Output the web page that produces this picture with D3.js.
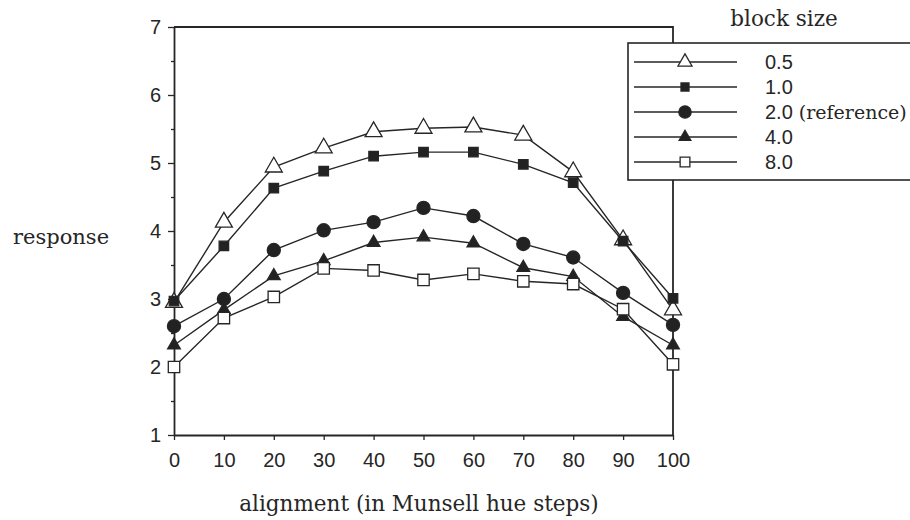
<!DOCTYPE html>
<html>
<head>
<meta charset="utf-8">
<script src="https://cdn.jsdelivr.net/npm/d3@7"></script>
<style>
  html, body { margin: 0; padding: 0; background: #fff; }
  svg { display: block; }
</style>
</head>
<body>
<svg id="chart" width="910" height="520"></svg>
<script>
// Alignment steps along the x axis (Munsell hue steps)
const alignment = [0, 10, 20, 30, 40, 50, 60, 70, 80, 90, 100];

// Block sizes, one series each
const blockSizes = ["0.5", "1.0", "2.0", "4.0", "8.0"];
const blockNotes = ["", "", " (reference)", "", ""];

// Mean response for each block size
const resp05 = [2.95, 4.13, 4.94, 5.22, 5.46, 5.51, 5.53, 5.41, 4.87, 3.87, 2.84];
const resp10 = [2.97, 3.78, 4.63, 4.88, 5.10, 5.16, 5.16, 4.98, 4.71, 3.85, 3.01];
const resp20 = [2.60, 3.00, 3.72, 4.01, 4.13, 4.34, 4.22, 3.81, 3.61, 3.09, 2.62];
const resp40 = [2.32, 2.84, 3.34, 3.56, 3.83, 3.91, 3.82, 3.46, 3.33, 2.74, 2.32];
const resp80 = [2.00, 2.72, 3.03, 3.45, 3.42, 3.28, 3.37, 3.26, 3.22, 2.85, 2.04];

// Axis ticks
const xTicks = [0, 10, 20, 30, 40, 50, 60, 70, 80, 90, 100];
const yTicks = [1, 2, 3, 4, 5, 6, 7];
const yMinorTicks = [1.5, 2.5, 3.5, 4.5, 5.5, 6.5];

const seriesValues = [resp05, resp10, resp20, resp40, resp80];

// Marker style per series: shape, filled or hollow, area
const markers = [
  { shape: d3.symbolTriangle, fill: "#fff", size: 125, legendSize: 85 },
  { shape: d3.symbolSquare,   fill: "#222", size: 90,  legendSize: 64 },
  { shape: d3.symbolCircle,   fill: "#222", size: 135, legendSize: 120 },
  { shape: d3.symbolTriangle, fill: "#222", size: 70,  legendSize: 60 },
  { shape: d3.symbolSquare,   fill: "#fff", size: 130, legendSize: 95 }
];

const ink = "#262626";
const sansFont = "'Liberation Sans', Arial, sans-serif";
const serifFont = "'DejaVu Serif', serif";

const svg = d3.select("#chart");

const x = d3.scaleLinear().domain([0, 100]).range([174, 673]);
const y = d3.scaleLinear().domain([1, 7]).range([435, 27]);

// Plot frame (top and right sides)
svg.append("path")
  .attr("d", `M${x(0)},${y(7)}H${x(100)}V${y(1)}`)
  .attr("fill", "none")
  .attr("stroke", ink)
  .attr("stroke-width", 1.8);

// Minor y ticks
svg.append("g")
  .attr("transform", `translate(${x(0)},0)`)
  .call(d3.axisLeft(y).tickValues(yMinorTicks).tickSize(3).tickFormat(""))
  .call(g => g.select(".domain").remove())
  .call(g => g.selectAll("line").attr("stroke", ink).attr("stroke-width", 1.3));

// Y axis
svg.append("g")
  .attr("transform", `translate(${x(0)},0)`)
  .call(d3.axisLeft(y).tickValues(yTicks).tickSize(6).tickSizeOuter(0).tickPadding(7).tickFormat(d3.format("d")))
  .call(g => g.select(".domain").attr("stroke", ink).attr("stroke-width", 1.8))
  .call(g => g.selectAll(".tick line").attr("stroke", ink).attr("stroke-width", 1.3))
  .call(g => g.selectAll(".tick text")
    .attr("fill", ink)
    .style("font-family", sansFont)
    .style("font-size", "20px"));

// X axis
svg.append("g")
  .attr("transform", `translate(0,${y(1)})`)
  .call(d3.axisBottom(x).tickValues(xTicks).tickSize(5).tickSizeOuter(0).tickPadding(13).tickFormat(d3.format("d")))
  .call(g => g.select(".domain").attr("stroke", ink).attr("stroke-width", 1.8))
  .call(g => g.selectAll(".tick line").attr("stroke", ink).attr("stroke-width", 1.3))
  .call(g => g.selectAll(".tick text")
    .attr("fill", ink)
    .style("font-family", sansFont)
    .style("font-size", "20px"));

// Series lines and markers
const line = d3.line()
  .x((d, i) => x(alignment[i]))
  .y(d => y(d));

seriesValues.forEach((vals, s) => {
  const g = svg.append("g");
  g.append("path")
    .attr("d", line(vals))
    .attr("fill", "none")
    .attr("stroke", ink)
    .attr("stroke-width", 1.4);
  g.selectAll("path.mark")
    .data(vals)
    .join("path")
    .attr("class", "mark")
    .attr("transform", (d, i) => `translate(${x(alignment[i])},${y(d)})`)
    .attr("d", d3.symbol().type(markers[s].shape).size(markers[s].size))
    .attr("fill", markers[s].fill)
    .attr("stroke", ink)
    .attr("stroke-width", 1.3);
});

// Axis titles
svg.append("text")
  .attr("x", 13)
  .attr("y", 244)
  .attr("fill", ink)
  .style("font-family", serifFont)
  .style("font-size", "21px")
  .text("response");

svg.append("text")
  .attr("x", 419)
  .attr("y", 511)
  .attr("text-anchor", "middle")
  .attr("fill", ink)
  .style("font-family", serifFont)
  .style("font-size", "21.5px")
  .text("alignment (in Munsell hue steps)");

// Legend
svg.append("text")
  .attr("x", 784)
  .attr("y", 26)
  .attr("text-anchor", "middle")
  .attr("fill", ink)
  .style("font-family", serifFont)
  .style("font-size", "21.5px")
  .text("block size");

const legend = svg.append("g");
legend.append("rect")
  .attr("x", 628)
  .attr("y", 43)
  .attr("width", 300)
  .attr("height", 137)
  .attr("fill", "#fff")
  .attr("stroke", ink)
  .attr("stroke-width", 1.6);

const rowY = d3.scalePoint().domain(blockSizes).range([62, 162]);

blockSizes.forEach((b, s) => {
  const ry = rowY(b);
  legend.append("line")
    .attr("x1", 634).attr("x2", 737)
    .attr("y1", ry).attr("y2", ry)
    .attr("stroke", ink)
    .attr("stroke-width", 1.4);
  legend.append("path")
    .attr("transform", `translate(685,${ry})`)
    .attr("d", d3.symbol().type(markers[s].shape).size(markers[s].legendSize))
    .attr("fill", markers[s].fill)
    .attr("stroke", ink)
    .attr("stroke-width", 1.3);
  const t = legend.append("text")
    .attr("x", 765)
    .attr("y", ry + 7)
    .attr("fill", ink);
  t.append("tspan")
    .style("font-family", sansFont)
    .style("font-size", "20px")
    .text(b);
  if (blockNotes[s]) {
    t.append("tspan")
      .style("font-family", serifFont)
      .style("font-size", "19px")
      .text(blockNotes[s]);
  }
});
</script>
</body>
</html>
